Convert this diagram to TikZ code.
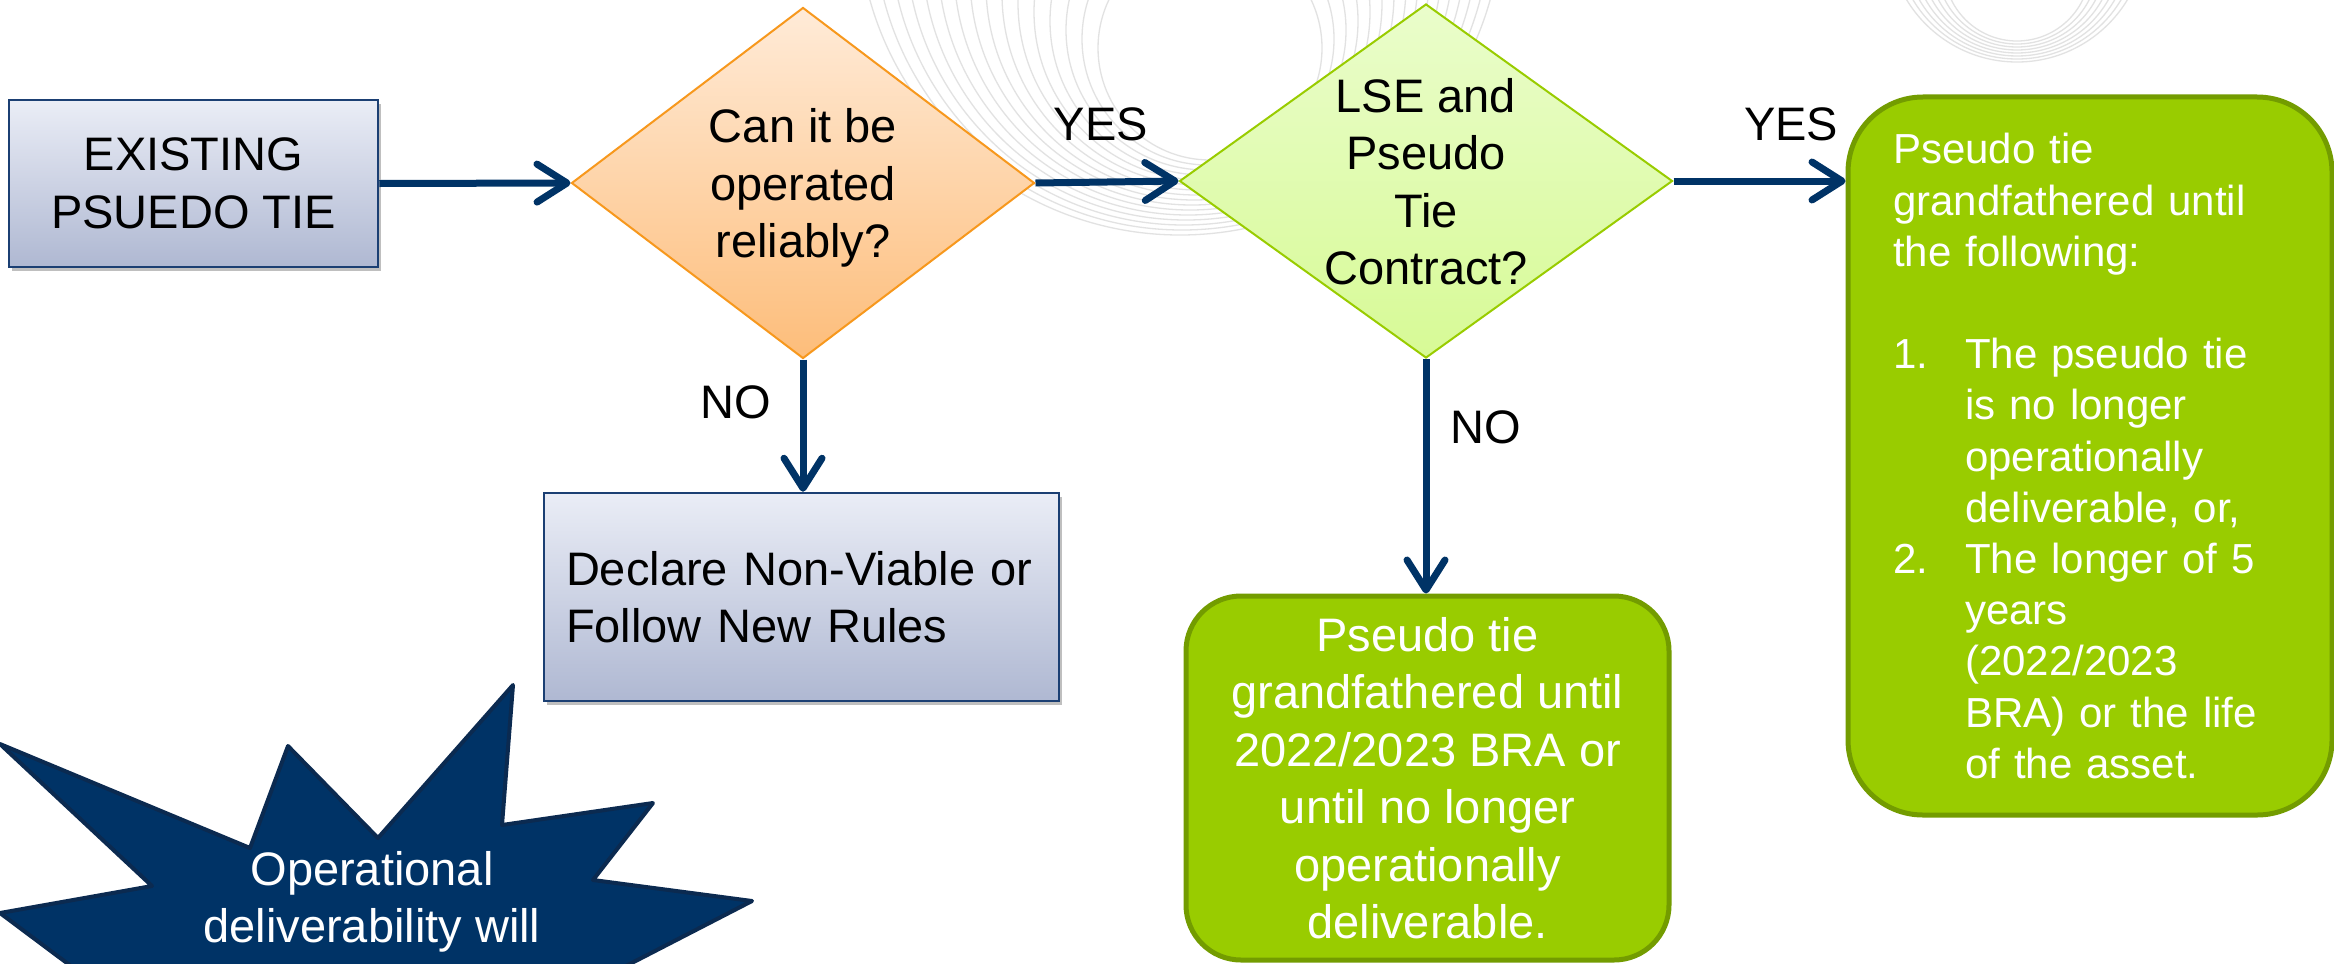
\documentclass[tikz,border=0pt]{standalone}
\usepackage{fontspec}
\setmainfont{Liberation Sans}
\usetikzlibrary{arrows.meta,shapes.geometric,shadows,calc}
\setlength\parindent{0pt}
\definecolor{navy}{HTML}{003366}
\definecolor{stardark}{HTML}{0B2A50}
\definecolor{boxedge}{HTML}{1B3F73}
\definecolor{boxtop}{HTML}{EAEDF6}
\definecolor{boxbot}{HTML}{AFB8D2}
\definecolor{orgtop}{HTML}{FFEBD8}
\definecolor{orgbot}{HTML}{FDBD7A}
\definecolor{orgedge}{HTML}{F7981D}
\definecolor{lgtop}{HTML}{EAFDCB}
\definecolor{lgbot}{HTML}{D7FA96}
\definecolor{lgedge}{HTML}{99CC00}
\definecolor{gfill}{HTML}{99CC00}
\definecolor{gedge}{HTML}{739C00}
\definecolor{swirlc}{HTML}{E2E2E2}
\tikzset{
  f47/.style={font=\fontsize{47bp}{57.5bp}\selectfont},
  f42/.style={font=\fontsize{42bp}{51.2bp}\selectfont},
  bluebox/.style={rectangle, draw=boxedge, line width=2.5bp, top color=boxtop, bottom color=boxbot,
    inner sep=0pt, f47, text=black,
    drop shadow={shadow xshift=3bp, shadow yshift=-4bp, opacity=0.25, fill=black}},
  diaone/.style={diamond, draw=orgedge, line width=2bp, top color=orgtop, bottom color=orgbot, inner sep=0pt},
  diatwo/.style={diamond, draw=lgedge, line width=2bp, top color=lgtop, bottom color=lgbot, inner sep=0pt},
  gbox/.style={rectangle, draw=gedge, line width=5bp, fill=gfill, text=white, inner sep=0pt},
  dtext/.style={f47, align=center, inner sep=0pt, text=black},
  lab/.style={f47, inner sep=0pt, anchor=base, text=black},
  arr/.style={draw=navy, line width=7bp, -{Straight Barb[length=30bp,width=38bp,round]}},
  swirl/.style={draw=swirlc, line width=1.3bp},
  starsty/.style={fill=navy, draw=stardark, line width=4bp, line join=round},
}
\begin{document}
\begin{tikzpicture}[x=1bp,y=-1bp]
\useasboundingbox (0,0) rectangle (2334,963);
\clip (0,0) rectangle (2334,963);
\fill[white] (0,0) rectangle (2334,963);
% background swirls
\foreach \i in {0,...,15} \draw[swirl] ({1180+2*\i},{-87+9*\i}) circle[radius={322-14*\i}];
\foreach \i in {0,...,7} \draw[swirl] (2017,{-67+5*\i}) circle[radius={129-8*\i}];
% star
\path[starsty] (0,744) -- (250,848) -- (288,746) -- (378,838) -- (513,685) -- (502,825)
  -- (653,803) -- (593,880) -- (752,901) -- (560,1000) -- (107,993) -- (0,913)
  -- (152,886) -- cycle;
\node[f47, align=center, text=white, inner sep=0pt] (star) at (372,902) {Operational\\deliverability will};
% nodes
\node[bluebox, minimum width=369bp, minimum height=167bp, align=center] (start) at (193.5,183.5) {EXISTING\\PSUEDO TIE};
\node[diaone, minimum width=463bp, minimum height=351bp] (d1) at (803,183) {};
\node[dtext] (d1t) at (803,188) {Can it be\\operated\\reliably?};
\node[diatwo, minimum width=493bp, minimum height=354bp] (d2) at (1426,181) {};
\node[dtext] (d2t) at (1426,181.5) {LSE and\\Pseudo\\Tie\\Contract?};
\node[bluebox, minimum width=515bp, minimum height=208bp, text width=471bp, inner xsep=22bp, align=left] (decl) at (801.5,597) {Declare Non-Viable or\\Follow New Rules};
\node[gbox, rounded corners=55bp, minimum width=483bp, minimum height=364bp, f47, align=center] (gb) at (1427.5,778) {Pseudo tie\\grandfathered until\\2022/2023 BRA or\\until no longer\\operationally\\deliverable.};
\node[gbox, rounded corners=75bp, minimum width=484bp, minimum height=718bp, text width=394bp, inner xsep=45bp, f42, align=left] (rbox) at (2090,456) {Pseudo tie\\grandfathered until\\the following:\\\mbox{}\\\makebox[72bp][l]{1.}The pseudo tie\\\hspace*{72bp}is no longer\\\hspace*{72bp}operationally\\\hspace*{72bp}deliverable, or,\\\makebox[72bp][l]{2.}The longer of 5\\\hspace*{72bp}years\\\hspace*{72bp}(2022/2023\\\hspace*{72bp}BRA) or the life\\\hspace*{72bp}of the asset.};
% labels
\node[lab] (yes1) at (1101,140) {YES};
\node[lab] (yes2) at (1791,140) {YES};
\node[lab] (no1) at (736,418) {NO};
\node[lab] (no2) at (1486,443) {NO};
% connectors
\draw[arr] (start.east) -- (d1.west);
\draw[arr] (d1.east) -- (d2.west);
\draw[arr] (d2.east) -- (d2.east -| rbox.west);
\draw[arr] (d1.south) -- (d1.south |- decl.north);
\draw[arr] (d2.south) -- (d2.south |- gb.north);
\end{tikzpicture}
\end{document}
